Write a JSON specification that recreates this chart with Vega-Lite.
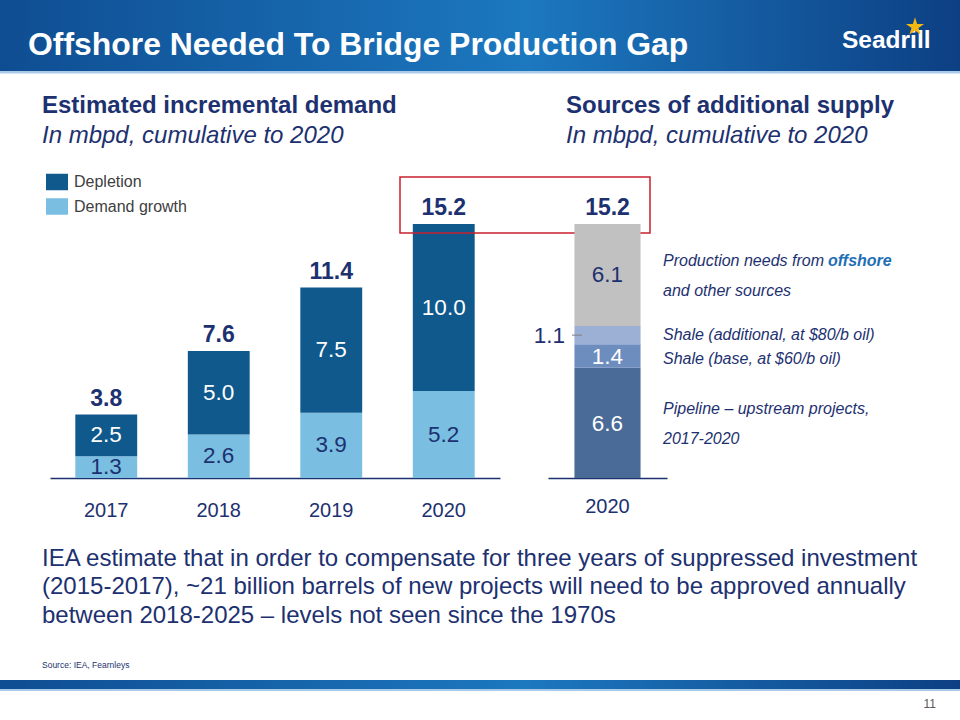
{
  "$schema": "https://vega.github.io/schema/vega-lite/v6.json",
  "width": 960,
  "height": 720,
  "autosize": {"type": "none"},
  "padding": 0,
  "background": "white",
  "config": {"view": {"stroke": null}, "font": "Liberation Sans"},
  "datasets": {
    "demand": [
      {"year": "2017", "series": "Demand growth", "value": 1.3},
      {"year": "2017", "series": "Depletion", "value": 2.5},
      {"year": "2018", "series": "Demand growth", "value": 2.6},
      {"year": "2018", "series": "Depletion", "value": 5.0},
      {"year": "2019", "series": "Demand growth", "value": 3.9},
      {"year": "2019", "series": "Depletion", "value": 7.5},
      {"year": "2020", "series": "Demand growth", "value": 5.2},
      {"year": "2020", "series": "Depletion", "value": 10.0}
    ],
    "demandTotals": [
      {"year": "2017", "total": 3.8},
      {"year": "2018", "total": 7.6},
      {"year": "2019", "total": 11.4},
      {"year": "2020", "total": 15.2}
    ],
    "supply": [
      {"period": "2020", "source": "Pipeline", "value": 6.6, "desc": ["Pipeline – upstream projects,", "2017-2020"]},
      {"period": "2020", "source": "Shale base", "value": 1.4, "desc": ["Shale (base, at $60/b oil)"]},
      {"period": "2020", "source": "Shale additional", "value": 1.1, "desc": ["Shale (additional, at $80/b oil)"]},
      {"period": "2020", "source": "Offshore and other", "value": 6.1, "desc": ["Production needs from", "and other sources"]}
    ],
    "supplyTotal": [
      {"period": "2020", "total": 15.2}
    ]
  },
  "resolve": {"scale": {"x": "independent", "color": "independent"}, "axis": {"x": "independent"}},
  "layer": [
    {
      "data": {"values": [{}]},
      "mark": {"type": "rect", "fill": {"gradient": "linear", "x1": 0, "y1": 0, "x2": 1, "y2": 0, "stops": [{"offset": 0, "color": "#0f4d92"}, {"offset": 0.55, "color": "#1c78bf"}, {"offset": 1, "color": "#0d3f83"}]}},
      "encoding": {"y": {"datum": 30, "type": "quantitative"}, "y2": {"datum": 24.356}}
    },
    {
      "data": {"values": [{}]},
      "mark": {"type": "rect", "fill": "#a9cbe9"},
      "encoding": {"y": {"datum": 24.356, "type": "quantitative"}, "y2": {"datum": 24.206}}
    },
    {
      "data": {"values": [{}]},
      "mark": {"type": "rect", "fill": {"gradient": "linear", "x1": 0, "y1": 0, "x2": 1, "y2": 0, "stops": [{"offset": 0, "color": "#0f4d92"}, {"offset": 0.55, "color": "#1c78bf"}, {"offset": 1, "color": "#0d3f83"}]}},
      "encoding": {"y": {"datum": -12.088, "type": "quantitative"}, "y2": {"datum": -12.627}}
    },
    {
      "data": {"values": [{}]},
      "mark": {"type": "rect", "fill": "#a9cbe9"},
      "encoding": {"y": {"datum": -12.627, "type": "quantitative"}, "y2": {"datum": -12.747}}
    },
    {
      "data": {"values": [{}]},
      "mark": {"type": "text", "text": "Offshore Needed To Bridge Production Gap", "align": "left", "baseline": "middle", "dx": -452, "font": "Liberation Sans", "fontWeight": "bold", "fontSize": 31.9, "color": "white"},
      "encoding": {"y": {"datum": 25.912, "type": "quantitative"}}
    },
    {
      "data": {"values": [{}]},
      "mark": {"type": "text", "text": "Seadrill", "align": "left", "baseline": "middle", "dx": 362, "font": "Liberation Sans", "fontWeight": "bold", "fontSize": 24.5, "color": "white"},
      "encoding": {"y": {"datum": 26.15, "type": "quantitative"}}
    },
    {
      "data": {"values": [{}]},
      "mark": {"type": "point", "shape": "M0,-1L0.2245,-0.309L0.951,-0.309L0.363,0.118L0.588,0.809L0,0.382L-0.588,0.809L-0.363,0.118L-0.951,-0.309L-0.2245,-0.309Z", "size": 360, "filled": true, "fill": "#f4b80f", "strokeWidth": 0, "opacity": 1, "xOffset": 435},
      "encoding": {"y": {"datum": 27.0, "type": "quantitative"}}
    },
    {
      "data": {"values": [{}]},
      "mark": {"type": "text", "text": "Estimated incremental demand", "align": "left", "baseline": "alphabetic", "dx": -438, "font": "Liberation Sans", "fontWeight": "bold", "fontSize": 24, "color": "#1d3170"},
      "encoding": {"y": {"datum": 21.843, "type": "quantitative"}}
    },
    {
      "data": {"values": [{}]},
      "mark": {"type": "text", "text": "In mbpd, cumulative to 2020", "align": "left", "baseline": "alphabetic", "dx": -438, "font": "Liberation Sans", "fontStyle": "italic", "fontSize": 24, "color": "#1d3170"},
      "encoding": {"y": {"datum": 20.047, "type": "quantitative"}}
    },
    {
      "data": {"values": [{}]},
      "mark": {"type": "text", "text": "Sources of additional supply", "align": "left", "baseline": "alphabetic", "dx": 86, "font": "Liberation Sans", "fontWeight": "bold", "fontSize": 24, "color": "#1d3170"},
      "encoding": {"y": {"datum": 21.843, "type": "quantitative"}}
    },
    {
      "data": {"values": [{}]},
      "mark": {"type": "text", "text": "In mbpd, cumulative to 2020", "align": "left", "baseline": "alphabetic", "dx": 86, "font": "Liberation Sans", "fontStyle": "italic", "fontSize": 24, "color": "#1d3170"},
      "encoding": {"y": {"datum": 20.047, "type": "quantitative"}}
    },
    {
      "data": {"values": [{}]},
      "mark": {"type": "text", "text": ["IEA estimate that in order to compensate for three years of suppressed investment", "(2015-2017), ~21 billion barrels of new projects will need to be approved annually", "between 2018-2025 – levels not seen since the 1970s"], "lineHeight": 28.5, "align": "left", "baseline": "middle", "dx": -438, "font": "Liberation Sans", "fontSize": 24, "color": "#1d3170"},
      "encoding": {"y": {"datum": -4.847, "type": "quantitative"}}
    },
    {
      "data": {"values": [{}]},
      "mark": {"type": "text", "text": "Source: IEA, Fearnleys", "align": "left", "baseline": "middle", "dx": -438, "font": "Liberation Sans", "fontSize": 8.5, "color": "#1d3170"},
      "encoding": {"y": {"datum": -11.191, "type": "quantitative"}}
    },
    {
      "data": {"values": [{}]},
      "mark": {"type": "text", "text": "11", "align": "right", "baseline": "middle", "dx": 456, "font": "Liberation Sans", "fontSize": 12, "color": "#595959"},
      "encoding": {"y": {"datum": -13.524, "type": "quantitative"}}
    },
    {
      "layer": [
        {
          "data": {"name": "demand"},
          "transform": [
            {"calculate": "datum.series === 'Demand growth' ? 0 : 1", "as": "ord"},
            {"stack": "value", "groupby": ["year"], "sort": [{"field": "ord", "order": "ascending"}], "as": ["v0", "v1"]}
          ],
          "mark": {"type": "bar"},
          "encoding": {
            "x": {"field": "year", "type": "nominal", "scale": {"domain": ["2017", "2018", "2019", "2020"], "range": [50, 500], "paddingInner": 0.45, "paddingOuter": 0.225},
              "axis": {"orient": "bottom", "offset": -242, "title": null, "labelAngle": 0, "ticks": false, "grid": false, "domainColor": "#1d3170", "domainWidth": 1.5, "labelFontSize": 20, "labelColor": "#1d3170", "labelPadding": 22, "labelFont": "Liberation Sans"}},
            "y": {"field": "v0", "type": "quantitative", "scale": {"domain": [0, 15.2], "range": [478, 224], "nice": false, "zero": false}, "axis": null},
            "y2": {"field": "v1"},
            "color": {"field": "series", "type": "nominal", "scale": {"domain": ["Depletion", "Demand growth"], "range": ["#10598c", "#7abee2"]},
              "legend": {"orient": "none", "legendX": 46, "legendY": 171, "title": null, "symbolType": "M-1,-0.75L1,-0.75L1,0.75L-1,0.75Z", "symbolSize": 484, "symbolStrokeWidth": 0, "symbolOpacity": 1, "labelFontSize": 16, "labelColor": "#404040", "labelFont": "Liberation Sans", "rowPadding": 4.5, "labelOffset": 6, "padding": 0}}
          }
        },
        {
          "data": {"name": "demand"},
          "transform": [
            {"calculate": "datum.series === 'Demand growth' ? 0 : 1", "as": "ord"},
            {"stack": "value", "groupby": ["year"], "sort": [{"field": "ord", "order": "ascending"}], "as": ["v0", "v1"]},
            {"calculate": "(datum.v0 + datum.v1) / 2", "as": "vmid"},
            {"filter": "datum.series === 'Depletion'"}
          ],
          "mark": {"type": "text", "font": "Liberation Sans", "fontSize": 22.5, "color": "white", "baseline": "middle"},
          "encoding": {
            "x": {"field": "year", "type": "nominal"},
            "y": {"field": "vmid", "type": "quantitative"},
            "text": {"field": "value", "type": "quantitative", "format": ".1f"}
          }
        },
        {
          "data": {"name": "demand"},
          "transform": [
            {"calculate": "datum.series === 'Demand growth' ? 0 : 1", "as": "ord"},
            {"stack": "value", "groupby": ["year"], "sort": [{"field": "ord", "order": "ascending"}], "as": ["v0", "v1"]},
            {"calculate": "(datum.v0 + datum.v1) / 2", "as": "vmid"},
            {"filter": "datum.series === 'Demand growth'"}
          ],
          "mark": {"type": "text", "font": "Liberation Sans", "fontSize": 22.5, "color": "#1d3170", "baseline": "middle"},
          "encoding": {
            "x": {"field": "year", "type": "nominal"},
            "y": {"field": "vmid", "type": "quantitative"},
            "text": {"field": "value", "type": "quantitative", "format": ".1f"}
          }
        },
        {
          "data": {"name": "demandTotals"},
          "mark": {"type": "text", "font": "Liberation Sans", "fontSize": 23, "fontWeight": "bold", "color": "#1d3170", "baseline": "middle", "dy": -16},
          "encoding": {
            "x": {"field": "year", "type": "nominal"},
            "y": {"field": "total", "type": "quantitative"},
            "text": {"field": "total", "type": "quantitative", "format": ".1f"}
          }
        },
        {
          "data": {"values": [{}]},
          "mark": {"type": "point", "shape": "M-1,-0.224L1,-0.224L1,0.224L-1,0.224Z", "size": 62500, "filled": false, "stroke": "#c8202f", "strokeWidth": 1.5, "opacity": 1, "xOffset": 81.25},
          "encoding": {
            "x": {"datum": "2020", "type": "nominal"},
            "y": {"datum": 16.337, "type": "quantitative"}
          }
        }
      ]
    },
    {
      "layer": [
        {
          "data": {"name": "supply"},
          "transform": [
            {"calculate": "indexof(['Pipeline', 'Shale base', 'Shale additional', 'Offshore and other'], datum.source)", "as": "ord"},
            {"stack": "value", "groupby": ["period"], "sort": [{"field": "ord", "order": "ascending"}], "as": ["v0", "v1"]}
          ],
          "mark": {"type": "bar"},
          "encoding": {
            "x": {"field": "period", "type": "nominal", "scale": {"domain": ["2020"], "range": [548, 667], "paddingInner": 0, "paddingOuter": 0.4},
              "axis": {"orient": "bottom", "offset": -242, "title": null, "labelAngle": 0, "ticks": false, "grid": false, "domainColor": "#1d3170", "domainWidth": 1.5, "labelFontSize": 20, "labelColor": "#1d3170", "labelPadding": 18, "labelFont": "Liberation Sans"}},
            "y": {"field": "v0", "type": "quantitative", "scale": {"domain": [0, 15.2], "range": [478, 224], "nice": false, "zero": false}, "axis": null},
            "y2": {"field": "v1"},
            "color": {"field": "source", "type": "nominal", "scale": {"domain": ["Pipeline", "Shale base", "Shale additional", "Offshore and other"], "range": ["#4a6a98", "#6d8dbf", "#9cb0d5", "#c1c1c1"]}, "legend": null}
          }
        },
        {
          "data": {"name": "supply"},
          "transform": [
            {"calculate": "indexof(['Pipeline', 'Shale base', 'Shale additional', 'Offshore and other'], datum.source)", "as": "ord"},
            {"stack": "value", "groupby": ["period"], "sort": [{"field": "ord", "order": "ascending"}], "as": ["v0", "v1"]},
            {"calculate": "(datum.v0 + datum.v1) / 2", "as": "vmid"},
            {"filter": "datum.source === 'Pipeline' || datum.source === 'Shale base'"}
          ],
          "mark": {"type": "text", "font": "Liberation Sans", "fontSize": 22.5, "color": "white", "baseline": "middle", "dy": 1},
          "encoding": {
            "x": {"field": "period", "type": "nominal"},
            "y": {"field": "vmid", "type": "quantitative"},
            "text": {"field": "value", "type": "quantitative", "format": ".1f"}
          }
        },
        {
          "data": {"name": "supply"},
          "transform": [
            {"calculate": "indexof(['Pipeline', 'Shale base', 'Shale additional', 'Offshore and other'], datum.source)", "as": "ord"},
            {"stack": "value", "groupby": ["period"], "sort": [{"field": "ord", "order": "ascending"}], "as": ["v0", "v1"]},
            {"calculate": "(datum.v0 + datum.v1) / 2", "as": "vmid"},
            {"filter": "datum.source === 'Offshore and other'"}
          ],
          "mark": {"type": "text", "font": "Liberation Sans", "fontSize": 22.5, "color": "#1d3170", "baseline": "middle"},
          "encoding": {
            "x": {"field": "period", "type": "nominal"},
            "y": {"field": "vmid", "type": "quantitative"},
            "text": {"field": "value", "type": "quantitative", "format": ".1f"}
          }
        },
        {
          "data": {"name": "supply"},
          "transform": [
            {"calculate": "indexof(['Pipeline', 'Shale base', 'Shale additional', 'Offshore and other'], datum.source)", "as": "ord"},
            {"stack": "value", "groupby": ["period"], "sort": [{"field": "ord", "order": "ascending"}], "as": ["v0", "v1"]},
            {"calculate": "(datum.v0 + datum.v1) / 2", "as": "vmid"},
            {"filter": "datum.source === 'Shale additional'"}
          ],
          "mark": {"type": "text", "font": "Liberation Sans", "fontSize": 22.5, "color": "#1d3170", "baseline": "middle", "align": "right", "dx": -42.5, "dy": 1},
          "encoding": {
            "x": {"field": "period", "type": "nominal"},
            "y": {"field": "vmid", "type": "quantitative"},
            "text": {"field": "value", "type": "quantitative", "format": ".1f"}
          }
        },
        {
          "data": {"name": "supply"},
          "transform": [
            {"calculate": "indexof(['Pipeline', 'Shale base', 'Shale additional', 'Offshore and other'], datum.source)", "as": "ord"},
            {"stack": "value", "groupby": ["period"], "sort": [{"field": "ord", "order": "ascending"}], "as": ["v0", "v1"]},
            {"calculate": "(datum.v0 + datum.v1) / 2", "as": "vmid"},
            {"filter": "datum.source === 'Shale additional'"}
          ],
          "mark": {"type": "point", "shape": "M-1,0L1,0", "size": 100, "filled": false, "stroke": "#7f7f7f", "strokeWidth": 1, "opacity": 1, "xOffset": -30.5},
          "encoding": {
            "x": {"field": "period", "type": "nominal"},
            "y": {"field": "vmid", "type": "quantitative"}
          }
        },
        {
          "data": {"name": "supply"},
          "transform": [
            {"calculate": "indexof(['Pipeline', 'Shale base', 'Shale additional', 'Offshore and other'], datum.source)", "as": "ord"},
            {"stack": "value", "groupby": ["period"], "sort": [{"field": "ord", "order": "ascending"}], "as": ["v0", "v1"]},
            {"calculate": "(datum.v0 + datum.v1) / 2", "as": "vmid"},
            {"filter": "datum.source === 'Pipeline' || datum.source === 'Offshore and other'"}
          ],
          "mark": {"type": "text", "font": "Liberation Sans", "fontSize": 16, "fontStyle": "italic", "color": "#1d3170", "baseline": "middle", "align": "left", "dx": 55.5, "dy": -14, "lineHeight": 30},
          "encoding": {
            "x": {"field": "period", "type": "nominal"},
            "y": {"field": "vmid", "type": "quantitative"},
            "text": {"field": "desc", "type": "nominal"}
          }
        },
        {
          "data": {"name": "supply"},
          "transform": [
            {"calculate": "indexof(['Pipeline', 'Shale base', 'Shale additional', 'Offshore and other'], datum.source)", "as": "ord"},
            {"stack": "value", "groupby": ["period"], "sort": [{"field": "ord", "order": "ascending"}], "as": ["v0", "v1"]},
            {"calculate": "(datum.v0 + datum.v1) / 2", "as": "vmid"},
            {"filter": "datum.source === 'Shale additional'"}
          ],
          "mark": {"type": "text", "font": "Liberation Sans", "fontSize": 16, "fontStyle": "italic", "color": "#1d3170", "baseline": "middle", "align": "left", "dx": 55.5},
          "encoding": {
            "x": {"field": "period", "type": "nominal"},
            "y": {"field": "vmid", "type": "quantitative"},
            "text": {"field": "desc", "type": "nominal"}
          }
        },
        {
          "data": {"name": "supply"},
          "transform": [
            {"calculate": "indexof(['Pipeline', 'Shale base', 'Shale additional', 'Offshore and other'], datum.source)", "as": "ord"},
            {"stack": "value", "groupby": ["period"], "sort": [{"field": "ord", "order": "ascending"}], "as": ["v0", "v1"]},
            {"calculate": "(datum.v0 + datum.v1) / 2", "as": "vmid"},
            {"filter": "datum.source === 'Shale base'"}
          ],
          "mark": {"type": "text", "font": "Liberation Sans", "fontSize": 16, "fontStyle": "italic", "color": "#1d3170", "baseline": "middle", "align": "left", "dx": 55.5, "dy": 3},
          "encoding": {
            "x": {"field": "period", "type": "nominal"},
            "y": {"field": "vmid", "type": "quantitative"},
            "text": {"field": "desc", "type": "nominal"}
          }
        },
        {
          "data": {"name": "supply"},
          "transform": [
            {"calculate": "indexof(['Pipeline', 'Shale base', 'Shale additional', 'Offshore and other'], datum.source)", "as": "ord"},
            {"stack": "value", "groupby": ["period"], "sort": [{"field": "ord", "order": "ascending"}], "as": ["v0", "v1"]},
            {"calculate": "(datum.v0 + datum.v1) / 2", "as": "vmid"},
            {"filter": "datum.source === 'Offshore and other'"}
          ],
          "mark": {"type": "text", "text": "offshore", "font": "Liberation Sans", "fontSize": 16, "fontStyle": "italic", "fontWeight": "bold", "color": "#1f6fb5", "baseline": "middle", "align": "left", "dx": 220.5, "dy": -14},
          "encoding": {
            "x": {"field": "period", "type": "nominal"},
            "y": {"field": "vmid", "type": "quantitative"}
          }
        },
        {
          "data": {"name": "supplyTotal"},
          "mark": {"type": "text", "font": "Liberation Sans", "fontSize": 23, "fontWeight": "bold", "color": "#1d3170", "baseline": "middle", "dy": -16},
          "encoding": {
            "x": {"field": "period", "type": "nominal"},
            "y": {"field": "total", "type": "quantitative"},
            "text": {"field": "total", "type": "quantitative", "format": ".1f"}
          }
        }
      ]
    }
  ]
}
